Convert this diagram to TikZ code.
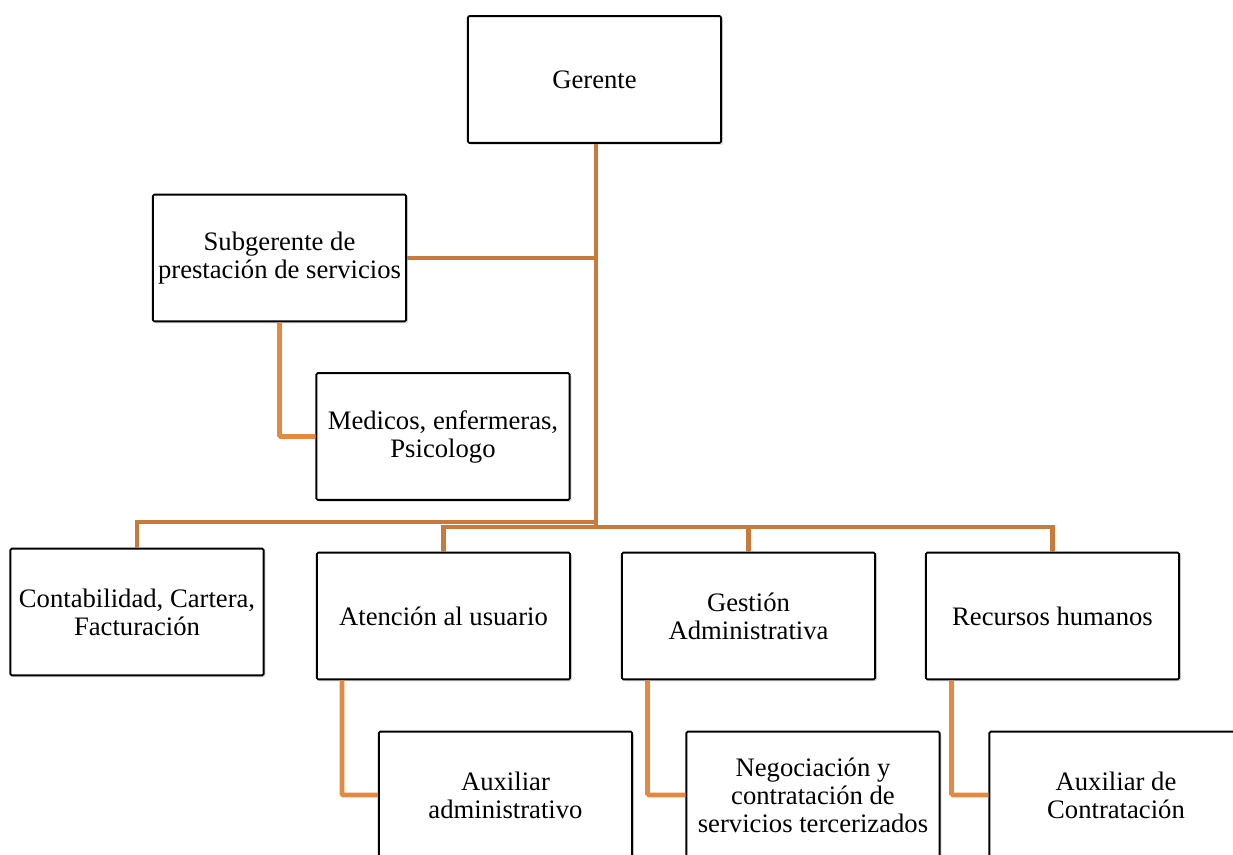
\documentclass[tikz,border=0pt]{standalone}
\usepackage{fontspec}
\setmainfont{Liberation Serif}
\usetikzlibrary{shadows}
\definecolor{trunkcol}{RGB}{200,122,58}
\definecolor{branchcol}{RGB}{228,138,64}
\begin{document}
\begin{tikzpicture}[x=0.75pt,y=-0.75pt,
    unit/.style={draw=black,line width=1.4pt,fill=white,rounded corners=1pt,
      minimum width=190pt,minimum height=95pt,inner xsep=2pt,align=center,
      font=\fontsize{20}{21}\selectfont,
      drop shadow={shadow xshift=1.5pt,shadow yshift=-1.5pt,opacity=0.25}},
    trunk/.style={draw=trunkcol,line width=3.6pt},
    branch/.style={draw=branchcol,line width=3.6pt,rounded corners=1pt}]
  \useasboundingbox (0,0) rectangle (1233,855);
  \clip (0,0) rectangle (1233,855);
  % bus points
  \coordinate (busA) at (596,522);
  \coordinate (busB) at (596,527);
  % boxes
  \node[unit] (gerente) at (594.5,79.5) {Gerente};
  \node[unit] (subgerente) at (279.5,258) {Subgerente de\\prestación de servicios};
  \node[unit] (medicos) at (443,436.5) {Medicos, enfermeras,\\Psicologo};
  \node[unit] (contab) at (137,612) {Contabilidad, Cartera,\\Facturación};
  \node[unit] (atencion) at (443.5,616) {Atención al usuario};
  \node[unit] (gestion) at (748.5,616) {Gestión\\Administrativa};
  \node[unit] (recursos) at (1052.5,616) {Recursos humanos};
  \node[unit] (auxadmin) at (505.5,795) {Auxiliar\\administrativo};
  \node[unit] (negocia) at (813,795) {Negociación y\\contratación de\\servicios tercerizados};
  \node[unit] (auxcontr) at (1116,795) {Auxiliar de\\Contratación};
  % connectors
  \draw[trunk] (gerente.south -| busB) -- (busB);
  \draw[trunk] (subgerente.east) -- (subgerente.east -| busB);
  \draw[trunk] (contab.north) |- (busA);
  \draw[trunk] (atencion.north) |- (busB);
  \draw[trunk] (gestion.north) -- (gestion.north |- busB);
  \draw[trunk] (recursos.north) |- (busB);
  \draw[branch] (subgerente.south) |- (medicos.west);
  \draw[branch] ([xshift=19.5pt]atencion.south west) |- (auxadmin.west);
  \draw[branch] ([xshift=20pt]gestion.south west) |- (negocia.west);
  \draw[branch] ([xshift=20pt]recursos.south west) |- (auxcontr.west);
\end{tikzpicture}
\end{document}
